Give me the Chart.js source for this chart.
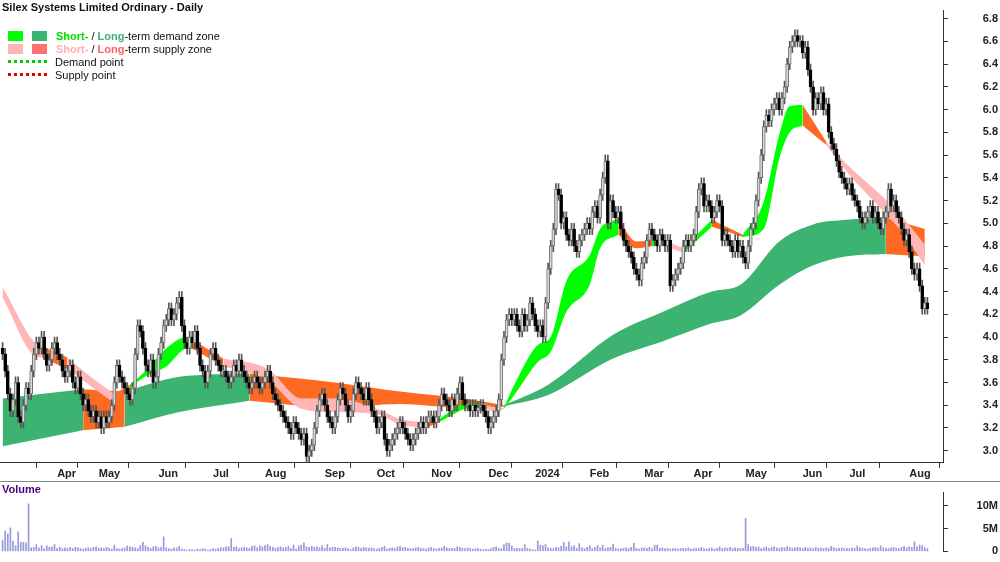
<!DOCTYPE html>
<html>
<head>
<meta charset="utf-8">
<script src="https://cdn.jsdelivr.net/npm/chart.js@4/dist/chart.umd.min.js"></script>
<style>
  body { margin: 0; background: #fff; font-family: Arial, "Liberation Sans", sans-serif; }
  #wrap { position: relative; width: 1000px; height: 562px; overflow: hidden; }
  #priceBox { position: absolute; left: 0; top: 0; width: 1000px; height: 481px; }
  #volBox { position: absolute; left: 0; top: 481px; width: 1000px; height: 81px; border-top: 1px solid #888; box-sizing: border-box; }
  .title { position: absolute; left: 2px; top: 1px; font-size: 11px; font-weight: bold; color: #111; }
  .leg { position: absolute; left: 8px; font-size: 11px; color: #111; white-space: nowrap; }
  .sw { display: inline-block; width: 15px; height: 10px; vertical-align: -1px; margin-right: 9px; }
  .dots { display: inline-block; width: 39px; height: 0; border-top: 3px dotted; vertical-align: 3px; margin-right: 8px; }
  .vlab { position: absolute; left: 2px; top: 483px; font-size: 11px; font-weight: bold; color: #4b0082; }
</style>
</head>
<body>
<div id="wrap">
  <div id="priceBox"><canvas id="price"></canvas></div>
  <div id="volBox"><canvas id="vol"></canvas></div>
  <div class="title">Silex Systems Limited Ordinary - Daily</div>
  <div class="leg" style="top:30px"><span class="sw" style="background:#00ff00"></span><span class="sw" style="background:#3cb371"></span><b style="color:#00e000">Short-</b> / <b style="color:#3cb371">Long</b>-term demand zone</div>
  <div class="leg" style="top:43px"><span class="sw" style="background:#ffb6b6"></span><span class="sw" style="background:#ff7070"></span><b style="color:#ffb0b0">Short-</b> / <b style="color:#ff6060">Long</b>-term supply zone</div>
  <div class="leg" style="top:56px"><span class="dots" style="border-color:#00d000"></span>Demand point</div>
  <div class="leg" style="top:69px"><span class="dots" style="border-color:#e00000"></span>Supply point</div>
  <div class="vlab">Volume</div>
</div>
<script>
// daily closes, Feb 2023 .. Aug 2024 (grouped by month)
const closes = [
  3.85,3.7,3.5,3.35,3.45,3.6,3.3,3.25,3.4,3.55,3.5,3.7,3.85,3.95,3.9,4.0,3.85,3.75,3.8,3.9,3.95,3.85,3.8,3.7,3.65,
  3.7,3.75,3.6,3.55,3.65,3.5,3.4,3.45,3.35,3.3,3.35,3.25,3.3,3.2,3.3,3.25,3.3,
  3.4,3.6,3.75,3.65,3.6,3.55,3.5,3.45,3.55,3.85,4.1,4.05,3.9,3.75,3.7,3.8,3.6,3.65,3.85,3.95,4.1,4.15,4.25,
  4.15,4.2,4.3,4.35,4.1,3.95,3.9,4.0,3.95,4.05,3.9,3.75,3.7,3.6,3.7,3.85,3.9,3.8,3.75,3.7,
  3.7,3.65,3.6,3.65,3.75,3.7,3.8,3.7,3.65,3.6,3.55,3.6,3.65,3.6,3.55,3.6,3.65,3.7,3.6,3.5,3.45,3.4,3.35,
  3.3,3.25,3.2,3.15,3.25,3.2,3.15,3.1,3.15,2.95,3.0,3.05,3.2,3.35,3.45,3.5,3.4,3.3,3.25,3.2,
  3.3,3.45,3.55,3.5,3.4,3.3,3.35,3.5,3.6,3.55,3.5,3.45,3.55,3.45,3.35,3.3,3.2,3.25,3.3,
  3.1,3.0,3.05,3.1,3.15,3.2,3.25,3.2,3.15,3.1,3.05,3.1,3.15,3.2,3.25,3.2,3.25,3.3,3.3,3.25,3.3,3.4,
  3.5,3.45,3.4,3.35,3.45,3.4,3.5,3.6,3.45,3.4,3.4,3.35,3.4,3.35,3.38,3.4,3.35,3.3,3.2,3.25,3.3,
  3.35,3.45,3.8,4.0,4.15,4.2,4.15,4.2,4.1,4.05,4.2,4.1,4.15,4.3,4.2,4.1,4.05,4.1,4.0,4.3,4.6,
  4.8,4.95,5.3,5.25,5.0,5.05,4.9,4.85,4.95,4.8,4.75,4.85,4.9,4.95,5.0,4.95,5.1,5.15,5.05,
  5.25,5.4,5.55,5.0,5.2,5.1,5.05,5.1,4.95,4.85,4.8,4.75,4.7,4.6,4.55,4.5,4.65,4.7,4.85,4.95,
  4.9,4.85,4.8,4.9,4.85,4.8,4.85,4.45,4.5,4.55,4.6,4.65,4.8,4.85,4.8,4.85,4.9,5.1,5.3,5.35,5.15,
  5.2,5.15,5.05,5.1,5.2,5.15,4.85,4.9,4.85,4.8,4.75,4.85,4.75,4.8,4.7,4.65,4.8,4.95,5.0,
  5.2,5.4,5.6,5.85,5.95,5.9,6.0,6.05,6.1,6.0,6.1,6.2,6.4,6.55,6.6,6.65,6.6,6.6,6.5,6.55,6.35,6.2,
  6.0,6.1,6.05,6.15,6.0,6.05,5.8,5.7,5.65,5.55,5.45,5.4,5.35,5.3,5.35,5.25,5.2,5.15,5.05,
  5.0,5.05,5.1,5.15,5.05,5.1,5.0,4.95,5.05,5.1,5.3,5.15,5.2,5.1,5.05,4.95,4.85,4.9,4.75,4.6,4.55,4.6,
  4.45,4.25,4.3,4.25
];
const firstOpen = 3.9;

// volume in millions
const volume = [
  2.5,4.5,3.8,5.2,2.3,1.2,4.3,2.0,2.0,1.9,10.5,0.8,0.9,1.5,0.8,1.3,0.6,1.2,0.9,1.0,1.5,0.7,0.9,0.6,0.8,
  0.7,0.9,0.6,0.9,0.8,0.6,0.5,0.7,0.8,0.6,0.9,1.0,0.7,0.8,0.6,0.9,0.7,
  0.5,1.4,0.6,0.5,0.6,0.8,1.2,1.0,0.9,0.8,0.6,1.3,2.0,1.2,0.9,0.7,1.0,1.1,0.8,0.9,3.2,0.8,0.6,
  0.5,0.8,0.8,1.1,0.5,0.4,0.3,0.4,0.4,0.3,0.5,0.4,0.6,0.5,0.3,0.4,0.6,0.5,0.7,0.8,
  0.8,1.0,1.0,2.8,0.9,1.0,0.6,0.8,0.9,0.8,0.7,1.1,1.2,0.8,1.2,1.0,1.3,1.5,1.1,0.9,0.7,0.9,1.0,
  0.8,0.9,1.1,0.7,1.4,0.5,1.2,1.4,1.9,1.0,0.9,1.1,0.9,1.0,0.8,1.3,0.7,1.5,0.8,0.9,
  0.9,0.8,0.7,0.7,0.8,0.6,0.4,0.8,1.0,0.9,0.7,0.9,0.8,0.7,0.8,0.6,0.5,0.7,0.9,
  1.1,0.5,0.7,0.8,0.6,1.0,1.1,0.8,0.9,0.7,0.6,0.6,0.8,0.9,0.7,0.6,0.5,0.8,0.9,0.6,0.5,0.7,
  0.8,1.1,0.8,0.6,0.7,0.6,1.0,0.9,0.7,0.6,0.8,0.7,0.5,0.6,0.7,0.5,0.4,0.5,0.4,0.6,0.9,
  1.0,0.7,0.6,1.5,1.9,1.8,1.2,0.6,0.7,0.6,0.7,1.5,0.7,0.5,0.4,0.3,2.3,1.4,1.2,1.5,0.8,
  0.7,0.6,0.9,0.8,1.1,2.0,1.0,2.1,1.0,1.3,0.7,1.7,0.8,0.6,0.9,1.2,0.6,0.9,1.3,
  0.8,1.4,0.6,0.8,0.9,1.6,0.7,0.5,0.6,0.7,0.8,0.6,0.9,1.8,0.7,0.5,0.8,0.8,0.7,0.9,
  0.6,1.4,1.4,0.7,0.8,0.6,0.7,0.5,0.6,0.7,0.5,0.6,0.7,0.6,0.8,0.5,0.6,0.7,0.6,0.9,0.6,
  0.5,0.7,0.8,0.5,0.7,1.0,0.6,0.8,0.7,0.9,0.6,0.8,0.7,0.6,0.7,7.3,1.5,1.0,1.1,
  0.9,1.0,0.6,0.8,1.0,0.7,0.9,1.0,0.8,0.7,0.9,0.8,1.0,0.9,0.7,0.8,0.9,0.8,0.6,0.9,0.7,0.8,
  0.6,0.9,0.7,0.8,0.6,0.8,0.7,1.1,0.8,0.6,0.7,0.8,0.6,0.7,0.6,0.8,0.7,1.2,0.8,
  0.7,0.6,0.5,0.7,0.8,0.9,0.7,1.2,0.8,0.7,0.6,0.8,0.9,0.7,0.6,0.9,1.1,0.8,1.0,0.9,2.1,1.0,
  1.4,1.3,0.8,0.6
];

// long-term zone (bar index, upper, lower, state: G demand / O supply)
const ltIdx   = [0, 31, 47, 68, 95, 128, 153, 180, 193, 210, 235, 254, 273, 284, 299, 312, 325, 340, 355];
const ltUpper = [3.46,3.54,3.52,3.65,3.68,3.60,3.52,3.45,3.40,3.58,4.02,4.22,4.40,4.46,4.84,4.99,5.03,5.05,4.95];
const ltLower = [3.04,3.18,3.21,3.34,3.44,3.38,3.41,3.37,3.39,3.49,3.81,3.96,4.12,4.19,4.46,4.63,4.71,4.73,4.71];
const ltState = ['G','O','G','G','O','O','O','O','G','G','G','G','G','G','G','G','G','O','O'];

// short-term zone (G demand / P supply / O transition)
const stIdx   = [0,12,15,25,35,43,49,54,63,71,73,82,85,102,115,128,144,153,163,168,179,184,190,193,197,206,211,217,226,230,237,244,250,254,262,273,285,293,299,303,308,317,325,338,347,355];
const stUpper = [4.44,3.96,3.92,3.82,3.63,3.50,3.58,3.68,3.90,4.00,3.98,3.85,3.81,3.72,3.46,3.46,3.37,3.28,3.25,3.28,3.42,3.42,3.38,3.38,3.58,3.93,4.00,4.49,4.72,4.95,5.04,4.84,4.85,4.86,4.78,5.03,4.90,5.19,5.78,6.03,6.04,5.72,5.52,5.25,5.04,4.81];
const stLower = [4.35,3.84,3.82,3.72,3.55,3.42,3.55,3.64,3.74,3.90,3.90,3.78,3.74,3.62,3.37,3.34,3.32,3.23,3.20,3.25,3.38,3.40,3.34,3.37,3.49,3.78,3.87,4.22,4.46,4.78,4.90,4.78,4.80,4.81,4.74,4.97,4.88,4.95,5.57,5.80,5.86,5.69,5.45,5.13,4.90,4.63];
const stState = ['P','P','O','P','P','O','G','G','G','G','O','O','P','P','P','P','P','P','O','G','G','P','P','G','G','G','G','G','G','G','O','O','G','P','G','O','G','G','G','G','O','P','P','P','P','P'];

const priceTicks = [3.0,3.2,3.4,3.6,3.8,4.0,4.2,4.4,4.6,4.8,5.0,5.2,5.4,5.6,5.8,6.0,6.2,6.4,6.6,6.8];
const monthIdx = [21, 37, 60, 81, 101, 124, 144, 165, 187, 205, 226, 247, 266, 286, 308, 326, 349];
const monthLabels = ['Apr','May','Jun','Jul','Aug','Sep','Oct','Nov','Dec','2024','Feb','Mar','Apr','May','Jun','Jul','Aug'];
const volTicks = [0, 5, 10];

const zoneColors = { G: '#3cb371', O: '#ff6a22', Gs: '#00ff00', Ps: '#ffb6b6', Os: '#ff6a22' };

function zoneSets(idx, up, lo, st, short) {
  const sets = [];
  let s = 0;
  for (let i = 1; i < idx.length; i++) {
    if (i === idx.length - 1 || st[i] !== st[s]) {
      const lower = [], upper = [];
      for (let k = s; k <= i; k++) {
        lower.push({ x: idx[k], y: lo[k] });
        upper.push({ x: idx[k], y: up[k] });
      }
      const c = short ? zoneColors[st[s] + 's'] : zoneColors[st[s]];
      const base = { type: 'line', pointRadius: 0, borderWidth: 0, cubicInterpolationMode: 'monotone', order: short ? 5 : 6 };
      sets.push(Object.assign({}, base, { data: lower, fill: false }));
      sets.push(Object.assign({}, base, { data: upper, fill: '-1', backgroundColor: c }));
      s = i;
    }
  }
  return sets;
}

const bodies = [], wicks = [], bodyFill = [], bodyBorder = [];
closes.forEach((c, i) => {
  const o = i === 0 ? firstOpen : closes[i - 1];
  bodies.push({ x: i, y: [o, c] });
  wicks.push({ x: i, y: [Math.min(o, c) - 0.05, Math.max(o, c) + 0.05] });
  bodyFill.push(c >= o ? '#d8d8d8' : '#000');
  bodyBorder.push(c >= o ? '#707070' : '#000');
});

const yAxisFit = a => { a.width = 55; };

new Chart(document.getElementById('price'), {
  type: 'bar',
  data: {
    datasets: [
      ...zoneSets(ltIdx, ltUpper, ltLower, ltState, false),
      ...zoneSets(stIdx, stUpper, stLower, stState, true),
      { data: wicks, backgroundColor: '#555', barThickness: 1, grouped: false, order: 2 },
      { data: bodies, backgroundColor: bodyFill, borderColor: bodyBorder, borderWidth: 1, borderSkipped: false,
        barThickness: 3, minBarLength: 1, grouped: false, order: 1 }
    ]
  },
  options: {
    responsive: true, maintainAspectRatio: false, animation: false,
    layout: { padding: { top: 0, right: 2, left: 0, bottom: 0 } },
    scales: {
      x: {
        type: 'linear', min: -1, max: 362, offset: false,
        grid: { drawOnChartArea: false, tickLength: 5, color: '#333' },
        border: { color: '#333' },
        afterBuildTicks: a => { a.ticks = monthIdx.map(v => ({ value: v })); },
        ticks: { align: 'start', padding: 0, maxRotation: 0, autoSkip: false, color: '#222',
          font: { family: 'Arial', size: 11, weight: 'bold' },
          callback: (v, i) => monthLabels[i] }
      },
      y: {
        position: 'right', min: 2.894, max: 6.87,
        afterFit: yAxisFit,
        grid: { drawOnChartArea: false, tickLength: 5, color: '#333' },
        border: { color: '#333' },
        afterBuildTicks: a => { a.ticks = priceTicks.map(v => ({ value: v })); },
        ticks: { crossAlign: 'far', color: '#222', padding: 4,
          font: { family: 'Arial', size: 11, weight: 'bold' },
          callback: v => v.toFixed(1) }
      }
    },
    plugins: { legend: { display: false }, tooltip: { enabled: false } }
  }
});

new Chart(document.getElementById('vol'), {
  type: 'bar',
  data: {
    datasets: [{ data: volume.map((v, i) => ({ x: i, y: v })), backgroundColor: '#9999dd', barThickness: 1 }]
  },
  options: {
    responsive: true, maintainAspectRatio: false, animation: false,
    layout: { padding: { top: 0, right: 2, left: 0, bottom: 1 } },
    scales: {
      x: { type: 'linear', min: -1, max: 362, offset: false,
        grid: { display: false }, border: { display: false }, ticks: { display: false } },
      y: {
        position: 'right', min: 0, max: 12.95,
        afterFit: yAxisFit,
        grid: { drawOnChartArea: false, tickLength: 5, color: '#333' },
        border: { color: '#333' },
        afterBuildTicks: a => { a.ticks = volTicks.map(v => ({ value: v })); },
        ticks: { crossAlign: 'far', color: '#222', padding: 4,
          font: { family: 'Arial', size: 11, weight: 'bold' },
          callback: v => v === 0 ? '0' : v + 'M' }
      }
    },
    plugins: { legend: { display: false }, tooltip: { enabled: false } }
  }
});
</script>
</body>
</html>
